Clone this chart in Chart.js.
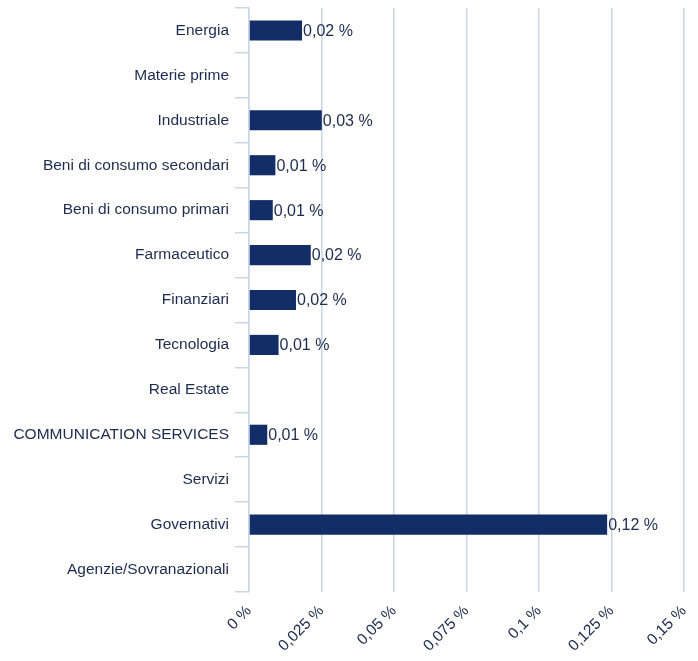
<!DOCTYPE html>
<html>
<head>
<meta charset="utf-8">
<script src="https://cdn.jsdelivr.net/npm/chart.js@4"></script>
<style>
  html, body { margin: 0; padding: 0; background: #fff; }
  #wrap { width: 698px; height: 661px; }
</style>
</head>
<body>
<div id="wrap"><canvas id="chart"></canvas></div>
<script>
const categories = [
    'Energia', 'Materie prime', 'Industriale', 'Beni di consumo secondari',
    'Beni di consumo primari', 'Farmaceutico', 'Finanziari', 'Tecnologia',
    'Real Estate', 'COMMUNICATION SERVICES', 'Servizi', 'Governativi',
    'Agenzie/Sovranazionali'
];
const weights = [0.0183, 0, 0.0251, 0.0091, 0.0082, 0.0213, 0.0162, 0.0102, 0, 0.0063, 0, 0.1235, 0];
const xTicks = [0, 0.025, 0.05, 0.075, 0.1, 0.125, 0.15];

const navy = '#132e66';
const textColor = '#1c2b4f';
const gridColor = '#c9d6e8';
const fontFamily = '"Liberation Sans", Arial, sans-serif';

function fmt(v) {
    return String(v).replace('.', ',') + ' %';
}

// labels drawn right of each bar
const valueLabels = {
    id: 'valueLabels',
    afterDatasetsDraw(chart) {
        const ctx = chart.ctx;
        const meta = chart.getDatasetMeta(0);
        ctx.save();
        ctx.font = '16px ' + fontFamily;
        ctx.fillStyle = textColor;
        ctx.textAlign = 'left';
        ctx.textBaseline = 'middle';
        meta.data.forEach((bar, i) => {
            const v = weights[i];
            if (!v) return;
            ctx.fillText(fmt((Math.round(v * 100) / 100).toFixed(2)), bar.x + 1, bar.y + 1);
        });
        ctx.restore();
    }
};

new Chart(document.getElementById('chart'), {
    type: 'bar',
    data: {
        labels: categories,
        datasets: [{
            data: weights,
            backgroundColor: navy,
            borderWidth: 0,
            barPercentage: 0.56,
            categoryPercentage: 0.8
        }]
    },
    options: {
        indexAxis: 'y',
        responsive: true,
        maintainAspectRatio: false,
        animation: false,
        layout: { padding: { top: 8, right: 14, bottom: 0, left: 0 } },
        plugins: { legend: { display: false }, tooltip: { enabled: false } },
        scales: {
            x: {
                min: 0,
                max: 0.15,
                afterBuildTicks(scale) { scale.ticks = xTicks.map(v => ({ value: v })); },
                afterFit(scale) {
                    scale.height = 69;
                    scale.paddingLeft = 0;
                    scale.paddingRight = 0;
                },
                grid: { color: gridColor, lineWidth: 1.5, tickLength: 0, drawTicks: false },
                border: { display: false },
                ticks: {
                    color: textColor,
                    font: { family: fontFamily, size: 15.5 },
                    minRotation: 45,
                    maxRotation: 45,
                    padding: 10,
                    callback: (v) => fmt(v)
                }
            },
            y: {
                afterFit(scale) {
                    scale.width = 249;
                    scale.paddingTop = 0;
                    scale.paddingBottom = 0;
                },
                grid: {
                    color: gridColor,
                    lineWidth: 1.5,
                    offset: true,
                    drawOnChartArea: false,
                    tickLength: 14
                },
                border: { display: true, color: gridColor, width: 1.5 },
                ticks: {
                    color: textColor,
                    font: { family: fontFamily, size: 15.5 },
                    padding: 6,
                    autoSkip: false
                }
            }
        }
    },
    plugins: [valueLabels]
});
</script>
</body>
</html>
